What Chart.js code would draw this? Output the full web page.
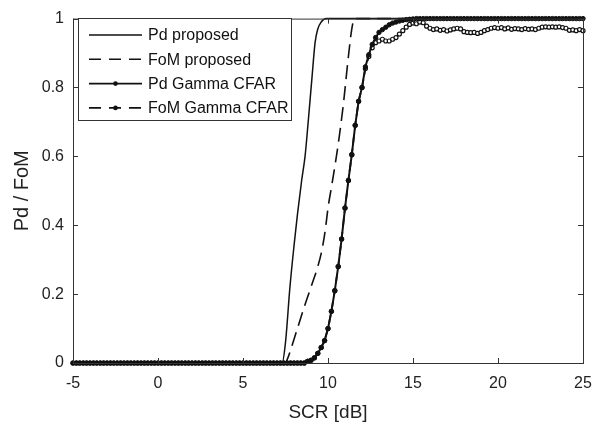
<!DOCTYPE html>
<html>
<head>
<meta charset="utf-8">
<script src="https://cdn.jsdelivr.net/npm/chart.js@4.4.1/dist/chart.umd.min.js"></script>
<style>
  html, body { margin: 0; padding: 0; background: #fff; }
  #wrap { width: 612px; height: 424px; }
</style>
</head>
<body>
<div id="wrap"><canvas id="chart" width="612" height="424"></canvas></div>
<script>
// SCR grid of the simulated CFAR curves (dB)
const scr = [
  -5, -4.8, -4.6, -4.4, -4.2, -4, -3.8, -3.6, -3.4, -3.2,
  -3, -2.8, -2.6, -2.4, -2.2, -2, -1.8, -1.6, -1.4, -1.2,
  -1, -0.8, -0.6, -0.4, -0.2, 0, 0.2, 0.4, 0.6, 0.8,
  1, 1.2, 1.4, 1.6, 1.8, 2, 2.2, 2.4, 2.6, 2.8,
  3, 3.2, 3.4, 3.6, 3.8, 4, 4.2, 4.4, 4.6, 4.8,
  5, 5.2, 5.4, 5.6, 5.8, 6, 6.2, 6.4, 6.6, 6.8,
  7, 7.2, 7.4, 7.6, 7.8, 8, 8.2, 8.4, 8.6, 8.8,
  9, 9.2, 9.4, 9.6, 9.8, 10, 10.2, 10.4, 10.6, 10.8,
  11, 11.2, 11.4, 11.6, 11.8, 12, 12.2, 12.4, 12.6, 12.8,
  13, 13.2, 13.4, 13.6, 13.8, 14, 14.2, 14.4, 14.6, 14.8,
  15, 15.2, 15.4, 15.6, 15.8, 16, 16.2, 16.4, 16.6, 16.8,
  17, 17.2, 17.4, 17.6, 17.8, 18, 18.2, 18.4, 18.6, 18.8,
  19, 19.2, 19.4, 19.6, 19.8, 20, 20.2, 20.4, 20.6, 20.8,
  21, 21.2, 21.4, 21.6, 21.8, 22, 22.2, 22.4, 22.6, 22.8,
  23, 23.2, 23.4, 23.6, 23.8, 24, 24.2, 24.4, 24.6, 24.8,
  25
];

const pdGamma = [
  0, 0, 0, 0, 0, 0, 0, 0, 0, 0,
  0, 0, 0, 0, 0, 0, 0, 0, 0, 0,
  0, 0, 0, 0, 0, 0, 0, 0, 0, 0,
  0, 0, 0, 0, 0, 0, 0, 0, 0, 0,
  0, 0, 0, 0, 0, 0, 0, 0, 0, 0,
  0, 0, 0, 0, 0, 0, 0, 0, 0, 0,
  0, 0, 0, 0, 0, 0, 0, 0, 0, 0.005,
  0.008, 0.015, 0.028, 0.045, 0.065, 0.1, 0.15, 0.21, 0.28, 0.36,
  0.45, 0.53, 0.605, 0.69, 0.76, 0.8, 0.86, 0.895, 0.925, 0.945,
  0.96, 0.968, 0.975, 0.982, 0.987, 0.99, 0.993, 0.995, 0.997, 0.998,
  0.999, 1, 1, 1, 1, 1, 1, 1, 1, 1,
  1, 1, 1, 1, 1, 1, 1, 1, 1, 1,
  1, 1, 1, 1, 1, 1, 1, 1, 1, 1,
  1, 1, 1, 1, 1, 1, 1, 1, 1, 1,
  1, 1, 1, 1, 1, 1, 1, 1, 1, 1,
  1
];

const fomGamma = [
  0, 0, 0, 0, 0, 0, 0, 0, 0, 0,
  0, 0, 0, 0, 0, 0, 0, 0, 0, 0,
  0, 0, 0, 0, 0, 0, 0, 0, 0, 0,
  0, 0, 0, 0, 0, 0, 0, 0, 0, 0,
  0, 0, 0, 0, 0, 0, 0, 0, 0, 0,
  0, 0, 0, 0, 0, 0, 0, 0, 0, 0,
  0, 0, 0, 0, 0, 0, 0, 0, 0, 0.005,
  0.008, 0.015, 0.028, 0.045, 0.065, 0.1, 0.15, 0.21, 0.28, 0.36,
  0.45, 0.53, 0.605, 0.69, 0.76, 0.8, 0.855, 0.89, 0.915, 0.93,
  0.935, 0.94, 0.935, 0.935, 0.94, 0.945, 0.955, 0.965, 0.975, 0.983,
  0.987, 0.985, 0.99, 0.988, 0.978, 0.972, 0.968, 0.97, 0.966, 0.968,
  0.964, 0.967, 0.97, 0.972, 0.97, 0.962, 0.96, 0.959, 0.96, 0.957,
  0.96, 0.965, 0.968, 0.972, 0.974, 0.972, 0.974, 0.97, 0.973, 0.969,
  0.971, 0.97, 0.968, 0.971, 0.969, 0.97, 0.968, 0.972, 0.975, 0.976,
  0.975, 0.976, 0.975, 0.976, 0.974, 0.972, 0.966, 0.967, 0.965, 0.968,
  0.965
];

// analytic curves of the proposed detector, read as (SCR, value) pairs
const pdPropX = [-5, 7.3, 7.5, 7.76, 8.0, 8.2, 8.45, 8.65, 8.8, 9.06, 9.24, 9.4, 9.6, 9.9, 25];
const pdPropY = [0, 0, 0.06, 0.22, 0.34, 0.43, 0.53, 0.6, 0.68, 0.83, 0.93, 0.97, 0.99, 1, 1];
const fomPropX = [-5, 7.5, 7.6, 8.2, 8.65, 9.1, 9.4, 9.65, 9.85, 10.0, 10.2, 10.4, 10.6, 10.9, 11.2, 11.4, 11.55, 25];
const fomPropY = [0, 0, 0.01, 0.1, 0.17, 0.235, 0.28, 0.33, 0.39, 0.45, 0.51, 0.57, 0.635, 0.75, 0.89, 0.97, 1, 1];

const xTicks = [-5, 0, 5, 10, 15, 20, 25];
const yTicks = [0, 0.2, 0.4, 0.6, 0.8, 1];
const labels = ['Pd proposed', 'FoM proposed', 'Pd Gamma CFAR', 'FoM Gamma CFAR'];

const FONT = '"Liberation Sans", Arial, sans-serif';
const pairs = (xs, ys) => xs.map((x, i) => ({ x: x, y: ys[i] }));

// box, inward ticks on all four sides, and the legend box
const framePlugin = {
  id: 'frame',
  afterDatasetsDraw(chart) {
    const { ctx, chartArea: a, scales } = chart;
    ctx.save();
    ctx.strokeStyle = '#333';
    ctx.lineWidth = 1;
    ctx.strokeRect(a.left + 0.5, a.top + 0.5, a.right - a.left, a.bottom - a.top);
    ctx.beginPath();
    xTicks.forEach(v => {
      const px = Math.round(scales.x.getPixelForValue(v)) + 0.5;
      ctx.moveTo(px, a.bottom); ctx.lineTo(px, a.bottom - 5);
      ctx.moveTo(px, a.top); ctx.lineTo(px, a.top + 5);
    });
    yTicks.forEach(v => {
      const py = Math.round(scales.y.getPixelForValue(v)) + 0.5;
      ctx.moveTo(a.left, py); ctx.lineTo(a.left + 5, py);
      ctx.moveTo(a.right, py); ctx.lineTo(a.right - 5, py);
    });
    ctx.stroke();

    // legend
    const lx = 78, ly = 18, lw = 213, lh = 102;
    ctx.fillStyle = '#fff';
    ctx.fillRect(lx, ly, lw, lh);
    ctx.strokeStyle = '#333';
    ctx.strokeRect(lx + 0.5, ly + 0.5, lw, lh);
    ctx.font = '16px ' + FONT;
    ctx.textBaseline = 'middle';
    chart.data.datasets.forEach((ds, i) => {
      const y = ly + 17 + i * 24.3;
      ctx.strokeStyle = '#111';
      ctx.lineWidth = Math.min(ds.borderWidth, 1.6);
      ctx.setLineDash(ds.borderDash ? [12, 8] : []);
      ctx.beginPath();
      ctx.moveTo(89, y); ctx.lineTo(142, y);
      ctx.stroke();
      ctx.setLineDash([]);
      if (ds.pointRadius > 0) {
        ctx.fillStyle = '#111';
        ctx.beginPath();
        ctx.arc(115.5, y, 2.3, 0, Math.PI * 2);
        ctx.fill();
      }
      ctx.fillStyle = '#111';
      ctx.fillText(ds.label, 148, y + 1);
    });
    ctx.restore();
  }
};

new Chart(document.getElementById('chart'), {
  type: 'line',
  data: {
    datasets: [
      {
        label: labels[0], data: pairs(pdPropX, pdPropY),
        borderColor: '#111', borderWidth: 1.5, pointRadius: 0,
        cubicInterpolationMode: 'monotone', clip: 3
      },
      {
        label: labels[1], data: pairs(fomPropX, fomPropY),
        borderColor: '#111', borderWidth: 1.6, borderDash: [14, 7], pointRadius: 0,
        cubicInterpolationMode: 'monotone', clip: 3
      },
      {
        label: labels[2], data: pairs(scr, pdGamma),
        borderColor: '#111', borderWidth: 2, pointRadius: 2.2,
        pointBackgroundColor: '#111', pointBorderColor: '#111', pointBorderWidth: 1,
        clip: 4
      },
      {
        label: labels[3], data: pairs(scr, fomGamma),
        borderColor: '#111', borderWidth: 1.8, borderDash: [9, 5], pointRadius: 2,
        pointBackgroundColor: '#fff', pointBorderColor: '#111', pointBorderWidth: 1.2,
        clip: 4
      }
    ]
  },
  options: {
    responsive: false,
    animation: false,
    layout: { padding: { top: 12, right: 29, left: 0, bottom: 0 } },
    plugins: { legend: { display: false }, tooltip: { enabled: false } },
    scales: {
      x: {
        type: 'linear', min: -5, max: 25,
        afterBuildTicks: s => { s.ticks = xTicks.map(v => ({ value: v })); },
        afterFit: s => { s.height = 61; },
        grid: { display: false, drawTicks: false },
        border: { display: false },
        ticks: { color: '#222', padding: 11, font: { family: FONT, size: 16 } },
        title: {
          display: true, text: 'SCR [dB]', color: '#222',
          font: { family: FONT, size: 19 }, padding: { top: 0, bottom: 0 }
        }
      },
      y: {
        min: 0, max: 1,
        afterBuildTicks: s => { s.ticks = yTicks.map(v => ({ value: v })); },
        afterFit: s => { s.width = 73; },
        grid: { display: false, drawTicks: false },
        border: { display: false },
        ticks: { color: '#222', padding: 9, font: { family: FONT, size: 16 },
          callback: v => String(Math.round(v * 10) / 10) },
        title: {
          display: true, text: 'Pd / FoM', color: '#222',
          font: { family: FONT, size: 20 }, padding: { top: 10, bottom: 10 }
        }
      }
    }
  },
  plugins: [framePlugin]
});
</script>
</body>
</html>
